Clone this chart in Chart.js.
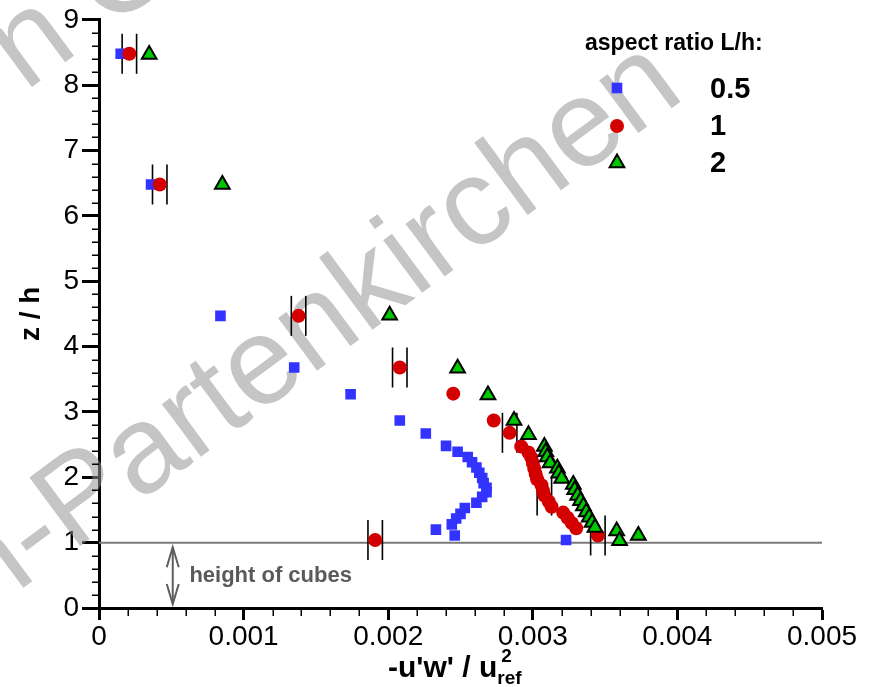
<!DOCTYPE html>
<html>
<head>
<meta charset="utf-8">
<script src="https://cdn.jsdelivr.net/npm/chart.js@4.4.1/dist/chart.umd.min.js"></script>
<style>
html,body{margin:0;padding:0;background:#fff;}
canvas{display:block;}
</style>
</head>
<body>
<canvas id="c" width="873" height="687"></canvas>
<script>
// ---------- data ----------
const seriesLabels = ['0.5', '1', '2'];
const legendTitle = 'aspect ratio L/h:';

// L/h = 0.5 (blue squares)
const blueX = [0.00015, 0.00036, 0.00084, 0.00135, 0.00174, 0.00208, 0.00226, 0.00240, 0.00248, 0.00255,
               0.00258, 0.00261, 0.00263, 0.00265, 0.00266, 0.00268, 0.00268, 0.00265, 0.00261, 0.00253,
               0.00250, 0.00247, 0.00244, 0.00233, 0.00246, 0.00323];
const blueZ = [8.48, 6.48, 4.47, 3.68, 3.27, 2.87, 2.67, 2.48, 2.39, 2.31,
               2.23, 2.15, 2.07, 1.99, 1.91, 1.84, 1.77, 1.70, 1.61, 1.53,
               1.44, 1.37, 1.28, 1.20, 1.11, 1.04];

// L/h = 1 (red circles)
const redX = [0.00021, 0.00042, 0.00138, 0.00208, 0.00245, 0.00273, 0.00284, 0.00292, 0.00297, 0.00299,
              0.00300, 0.00301, 0.00302, 0.00303, 0.00306, 0.00307, 0.00308, 0.00311, 0.00313, 0.00321,
              0.00324, 0.00327, 0.00330, 0.00345, 0.00191];
const redZ = [8.48, 6.48, 4.47, 3.68, 3.28, 2.87, 2.68, 2.47, 2.38, 2.30,
              2.22, 2.13, 2.05, 1.97, 1.88, 1.80, 1.72, 1.63, 1.55, 1.46,
              1.38, 1.30, 1.22, 1.11, 1.04];
// half width of the error bar for each red point (0 = none)
const redErr = [0.00005, 0.00005, 0.00005, 0.00005, 0, 0, 0.00005, 0, 0, 0,
                0, 0, 0, 0, 0, 0, 0.00005, 0, 0, 0,
                0, 0, 0, 0.00005, 0.00005];

// L/h = 2 (green triangles)
const greenX = [0.000347, 0.000853, 0.00201, 0.00248, 0.00269, 0.00287, 0.00297, 0.00308, 0.00309, 0.00310,
                0.00312, 0.00317, 0.00318, 0.00320, 0.00328, 0.00329, 0.00331, 0.00333, 0.00335, 0.00337,
                0.00339, 0.00341, 0.00343, 0.00358, 0.00373, 0.00360];
const greenZ = [8.47, 6.48, 4.48, 3.67, 3.26, 2.87, 2.65, 2.47, 2.39, 2.31,
                2.22, 2.14, 2.06, 1.98, 1.89, 1.81, 1.72, 1.64, 1.56, 1.47,
                1.39, 1.31, 1.23, 1.18, 1.11, 1.03];

const xTickLabels = ['0', '0.001', '0.002', '0.003', '0.004', '0.005'];
const yTickLabels = ['0', '1', '2', '3', '4', '5', '6', '7', '8', '9'];

// annotations
const cubeHeight = 1;
const arrowX = 0.00051;
const arrowZ = [0.06, 0.93];
const cubeText = 'height of cubes';
const cubeTextPos = [0.000625, 0.40];
const watermarkLines = ['Garmisch-Partenkirchen', 'n C'];

// ---------- chart ----------
const FAM = "'Liberation Sans', Arial, Helvetica, sans-serif";
const toPts = (xs, zs) => xs.map((x, i) => ({x: x, y: zs[i]}));

const overlay = {
  id: 'overlay',
  beforeDatasetsDraw(chart) {
    const {ctx, chartArea: a, scales: {x, y}} = chart;
    ctx.save();
    // watermark
    ctx.fillStyle = 'rgba(150,150,150,0.55)';
    ctx.textBaseline = 'alphabetic';
    ctx.textAlign = 'left';
    ctx.font = '124px ' + FAM;
    const ang = -36.5 * Math.PI / 180;
    const pre = ctx.measureText(watermarkLines[0].split('-')[0]).width;
    ctx.save();
    ctx.translate(72, 552);
    ctx.rotate(ang);
    ctx.fillText(watermarkLines[0], -pre - ctx.measureText('-').width, 0);
    ctx.restore();
    ctx.save();
    ctx.translate(25, 92);
    ctx.rotate(ang);
    ctx.fillText(watermarkLines[1], 0, 0);
    ctx.restore();

    // cube height line
    ctx.strokeStyle = '#7a7a7a';
    ctx.lineWidth = 2;
    const yc = y.getPixelForValue(cubeHeight);
    ctx.beginPath(); ctx.moveTo(a.left, yc); ctx.lineTo(a.right, yc); ctx.stroke();

    // minor ticks
    ctx.strokeStyle = '#000';
    ctx.lineWidth = 1.5;
    const xMinor = 0.0002, yMinor = 0.2;
    const nx = Math.round((x.max - x.min) / xMinor);
    for (let i = 1; i < nx; i++) {
      if (i % 5 === 0) continue;
      const px = Math.round(x.getPixelForValue(x.min + i * xMinor)) + 0.25;
      ctx.beginPath(); ctx.moveTo(px, a.bottom); ctx.lineTo(px, a.bottom + 8); ctx.stroke();
    }
    const ny = Math.round((y.max - y.min) / yMinor);
    for (let i = 1; i < ny; i++) {
      if (i % 5 === 0) continue;
      const py = Math.round(y.getPixelForValue(y.min + i * yMinor)) + 0.25;
      ctx.beginPath(); ctx.moveTo(a.left - 7, py); ctx.lineTo(a.left, py); ctx.stroke();
    }

    // error bars of the red series
    ctx.strokeStyle = '#000';
    ctx.lineWidth = 1.6;
    redX.forEach((xv, i) => {
      const e = redErr[i];
      if (!e) return;
      const py = y.getPixelForValue(redZ[i]);
      [xv - e, xv + e].forEach(v => {
        const px = x.getPixelForValue(v);
        ctx.beginPath(); ctx.moveTo(px, py - 20); ctx.lineTo(px, py + 20); ctx.stroke();
      });
    });
    ctx.restore();
  },
  afterDraw(chart) {
    const {ctx, scales: {x, y}} = chart;
    ctx.save();
    // height of cubes arrow
    ctx.strokeStyle = '#5e5e5e';
    ctx.lineWidth = 2;
    const ax = x.getPixelForValue(arrowX);
    const y0 = y.getPixelForValue(arrowZ[0]);
    const y1 = y.getPixelForValue(arrowZ[1]);
    ctx.beginPath(); ctx.moveTo(ax, y0); ctx.lineTo(ax, y1); ctx.stroke();
    ctx.beginPath();
    ctx.moveTo(ax - 6, y1 + 20); ctx.lineTo(ax, y1); ctx.lineTo(ax + 6, y1 + 20);
    ctx.moveTo(ax - 6, y0 - 20); ctx.lineTo(ax, y0); ctx.lineTo(ax + 6, y0 - 20);
    ctx.stroke();
    ctx.fillStyle = '#5a5a5a';
    ctx.font = 'bold 22px ' + FAM;
    ctx.textAlign = 'left';
    ctx.textBaseline = 'alphabetic';
    ctx.fillText(cubeText, x.getPixelForValue(cubeTextPos[0]), y.getPixelForValue(cubeTextPos[1]));

    // x axis title: -u'w' / u^2_ref
    ctx.fillStyle = '#000';
    ctx.font = 'bold 30px ' + FAM;
    const main = "-u'w' / u";
    const tx = 388, ty = 677;
    ctx.fillText(main, tx, ty);
    const w = ctx.measureText(main).width;
    ctx.font = 'bold 19px ' + FAM;
    ctx.fillText('2', tx + w + 4, 662);
    ctx.fillText('ref', tx + w + 0, 684);

    // legend
    ctx.font = 'bold 23px ' + FAM;
    ctx.fillText(legendTitle, 585, 50);
    const rows = [98, 135, 172];
    const mrk = [88, 126, 163];
    chart.data.datasets.forEach((ds, i) => {
      ctx.save();
      ctx.fillStyle = ds.pointBackgroundColor;
      ctx.strokeStyle = ds.pointBorderColor || ds.pointBackgroundColor;
      ctx.lineWidth = ds.pointBorderWidth;
      Chart.helpers.drawPoint(ctx, {pointStyle: ds.pointStyle, radius: ds.pointRadius, rotation: 0, borderWidth: ds.pointBorderWidth}, 617, mrk[i]);
      ctx.restore();
      ctx.fillStyle = '#000';
      ctx.font = 'bold 29px ' + FAM;
      ctx.fillText(ds.label, 710, rows[i]);
    });
    ctx.restore();
  }
};

new Chart(document.getElementById('c'), {
  type: 'scatter',
  data: {
    datasets: [
      {label: seriesLabels[0], data: toPts(blueX, blueZ), pointStyle: 'rect', pointRadius: 7.5,
       pointBackgroundColor: '#3333ff', pointBorderColor: '#3333ff', pointBorderWidth: 0, order: 3},
      {label: seriesLabels[1], data: toPts(redX, redZ), pointStyle: 'circle', pointRadius: 7,
       pointBackgroundColor: '#d40000', pointBorderColor: '#d40000', pointBorderWidth: 0, order: 2},
      {label: seriesLabels[2], data: toPts(greenX, greenZ), pointStyle: 'triangle', pointRadius: 8.5,
       pointBackgroundColor: '#00c800', pointBorderColor: '#000', pointBorderWidth: 2, order: 1}
    ]
  },
  options: {
    responsive: false,
    animation: false,
    events: [],
    layout: {padding: {left: 0, right: 51, top: 17, bottom: 0}},
    plugins: {legend: {display: false}, tooltip: {enabled: false}},
    scales: {
      x: {
        type: 'linear', position: 'bottom', min: 0, max: 0.005,
        ticks: {stepSize: 0.001, color: '#000', padding: 0, maxRotation: 0, autoSkip: false,
                font: {family: FAM, size: 28},
                callback: v => xTickLabels[Math.round(v / 0.001)]},
        grid: {drawOnChartArea: false, tickLength: 12, tickWidth: 3, tickColor: '#000'},
        border: {display: true, width: 3, color: '#000'},
        afterFit: s => { s.height = 79; }
      },
      y: {
        type: 'linear', position: 'left', min: 0, max: 9,
        ticks: {stepSize: 1, color: '#000', padding: 3, font: {family: FAM, size: 28},
                callback: v => yTickLabels[Math.round(v)]},
        grid: {drawOnChartArea: false, tickLength: 17, tickWidth: 3, tickColor: '#000'},
        border: {display: true, width: 3, color: '#000'},
        title: {display: true, text: 'z / h', color: '#000', padding: {top: 14, bottom: 0},
                font: {family: FAM, size: 28, weight: 'bold'}},
        afterFit: s => { s.width = 99; }
      }
    }
  },
  plugins: [overlay]
});
</script>
</body>
</html>
